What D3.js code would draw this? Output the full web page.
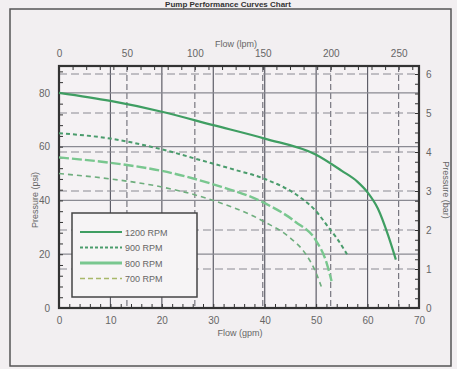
<!DOCTYPE html>
<html>
<head>
<meta charset="utf-8">
<script src="https://cdn.jsdelivr.net/npm/d3@7"></script>
<style>
  body { margin: 0; background: #f2eff1; }
  svg { display: block; font-family: "Liberation Sans", Arial, sans-serif; }
</style>
</head>
<body>
<div id="chart"></div>
<script>
// flow in gpm, pressure in psi
const series = ['1200 RPM', '900 RPM', '800 RPM', '700 RPM'];
const rpm1200 = [[0, 80], [10, 77], [20, 73], [30, 68], [40, 63], [50, 57], [55, 51], [58, 47], [60, 43], [62, 37], [64, 27], [65.5, 18]];
const rpm900 = [[0, 65], [10, 63], [20, 59], [27.5, 55], [34, 51.5], [40, 48], [47, 41], [50, 36], [52, 31], [54, 26], [56, 20]];
const rpm800 = [[0, 56], [10, 54], [20, 51], [30, 46], [40, 39], [46, 32], [50, 25], [52, 17], [53, 10]];
const rpm700 = [[0, 50], [10, 48], [20, 45], [30, 40], [40, 32], [45, 26], [48, 20], [50, 13], [51, 8]];
const gpmTicks = [0, 10, 20, 30, 40, 50, 60, 70];
const lpmTicks = [0, 50, 100, 150, 200, 250];
const psiTicks = [0, 20, 40, 60, 80];
const barTicks = [0, 1, 2, 3, 4, 5, 6];

const W = 457, H = 369;
const m = { left: 59, right: 419, top: 66, bottom: 308 };

const svg = d3.select('#chart').append('svg').attr('width', W).attr('height', H);

svg.append('rect').attr('width', W).attr('height', H).attr('fill', '#f2eff1');

// title along the top edge
svg.append('text').attr('x', 228).attr('y', 7).attr('text-anchor', 'middle')
  .attr('font-size', 8).attr('font-weight', 'bold').attr('fill', '#333')
  .text('Pump Performance Curves Chart');

// outer border
svg.append('rect').attr('x', 10).attr('y', 9).attr('width', 441).attr('height', 357)
  .attr('fill', 'none').attr('stroke', '#555').attr('stroke-width', 1.5);

const x = d3.scaleLinear().domain([0, 70]).range([m.left, m.right]);
const xl = d3.scaleLinear().domain([0, 70 * 3.785]).range([m.left, m.right]);
const y = d3.scaleLinear().domain([0, 90]).range([m.bottom, m.top]);
const yb = d3.scaleLinear().domain([0, 90 / 14.504]).range([m.bottom, m.top]);

svg.append('rect').attr('x', m.left).attr('y', m.top)
  .attr('width', m.right - m.left).attr('height', m.bottom - m.top).attr('fill', '#f5f2f4');

// grid
const grid = svg.append('g');
grid.selectAll('.gx').data(gpmTicks.slice(1, -1)).join('line')
  .attr('x1', d => x(d)).attr('x2', d => x(d)).attr('y1', m.top).attr('y2', m.bottom)
  .attr('stroke', '#5e5e68').attr('stroke-width', 1.2);
grid.selectAll('.gl').data(lpmTicks.slice(1)).join('line')
  .attr('x1', d => xl(d)).attr('x2', d => xl(d)).attr('y1', m.top).attr('y2', m.bottom)
  .attr('stroke', '#5e5e68').attr('stroke-dasharray', '6,3');
grid.selectAll('.gy').data(psiTicks.slice(1)).join('line')
  .attr('x1', m.left).attr('x2', m.right).attr('y1', d => y(d)).attr('y2', d => y(d))
  .attr('stroke', '#8a8a92').attr('stroke-width', 1.2);
grid.selectAll('.gb').data(barTicks.slice(1)).join('line')
  .attr('x1', m.left).attr('x2', m.right).attr('y1', d => yb(d)).attr('y2', d => yb(d))
  .attr('stroke', '#8a8a92').attr('stroke-dasharray', '8,4');

// axes with inward minor ticks
const tickStyle = g => {
  g.select('.domain').remove();
  g.selectAll('.tick line').attr('stroke', '#333');
  g.selectAll('.tick text').attr('fill', '#666').attr('font-size', 10);
};
svg.append('g').attr('transform', `translate(0,${m.bottom})`)
  .call(d3.axisBottom(x).tickValues(d3.range(0, 71, 2)).tickSize(-4)
    .tickFormat(d => gpmTicks.includes(d) ? d : '').tickPadding(9)).call(tickStyle);
svg.append('g').attr('transform', `translate(0,${m.top})`)
  .call(d3.axisTop(xl).tickValues(d3.range(0, 261, 10)).tickSize(-4)
    .tickFormat(d => lpmTicks.includes(d) ? d : '').tickPadding(9)).call(tickStyle);
svg.append('g').attr('transform', `translate(${m.left},0)`)
  .call(d3.axisLeft(y).tickValues(d3.range(0, 91, 4)).tickSize(-4)
    .tickFormat(d => psiTicks.includes(d) ? d : '').tickPadding(9)).call(tickStyle);
svg.append('g').attr('transform', `translate(${m.right},0)`)
  .call(d3.axisRight(yb).tickValues(d3.range(0, 6.21, 0.25)).tickSize(-4)
    .tickFormat(d => barTicks.includes(d) ? d : '').tickPadding(7)).call(tickStyle);

// frame
svg.append('rect').attr('x', m.left).attr('y', m.top)
  .attr('width', m.right - m.left).attr('height', m.bottom - m.top)
  .attr('fill', 'none').attr('stroke', '#333').attr('stroke-width', 2.2);

// axis titles
const lab = { 'font-size': 9, fill: '#666', 'text-anchor': 'middle' };
const addText = (t, px, py, rot) => {
  const e = svg.append('text').attr('x', px).attr('y', py).text(t);
  Object.entries(lab).forEach(([k, v]) => e.attr(k, v));
  if (rot) e.attr('transform', `rotate(${rot},${px},${py})`);
};
addText('Flow (lpm)', 236, 47);
addText('Flow (gpm)', 240, 336);
addText('Pressure (psi)', 38, 200, -90);
addText('Pressure (bar)', 443, 190, 90);

// curves
const line = d3.line().x(d => x(d[0])).y(d => y(d[1])).curve(d3.curveMonotoneX);
const styles = [
  { data: rpm1200, color: '#3f9e62', width: 2.2, dash: null },
  { data: rpm900, color: '#4a9c6c', width: 2, dash: '4,3' },
  { data: rpm800, color: '#79c78f', width: 2.4, dash: '10,3' },
  { data: rpm700, color: '#6fae7e', width: 1.6, dash: '5,4' }
];
svg.append('g').selectAll('path').data(styles).join('path')
  .attr('d', d => line(d.data)).attr('fill', 'none')
  .attr('stroke', d => d.color).attr('stroke-width', d => d.width)
  .attr('stroke-dasharray', d => d.dash);

// legend
const lg = svg.append('g').attr('transform', 'translate(72,213)');
lg.append('rect').attr('width', 125).attr('height', 84)
  .attr('fill', '#f6f4f5').attr('stroke', '#444').attr('stroke-width', 1.5);
const legendStyles = [
  { color: '#3f9e62', width: 1.8, dash: null },
  { color: '#4a9c6c', width: 2, dash: '3,2' },
  { color: '#79c78f', width: 3, dash: null },
  { color: '#a8b86a', width: 1.5, dash: '5,3' }
];
series.forEach((s, i) => {
  const yy = 19 + i * 15.5;
  lg.append('line').attr('x1', 8).attr('x2', 50).attr('y1', yy).attr('y2', yy)
    .attr('stroke', legendStyles[i].color).attr('stroke-width', legendStyles[i].width)
    .attr('stroke-dasharray', legendStyles[i].dash);
  lg.append('text').attr('x', 53).attr('y', yy + 3.5).attr('font-size', 9)
    .attr('fill', '#666').text(s);
});
</script>
</body>
</html>
